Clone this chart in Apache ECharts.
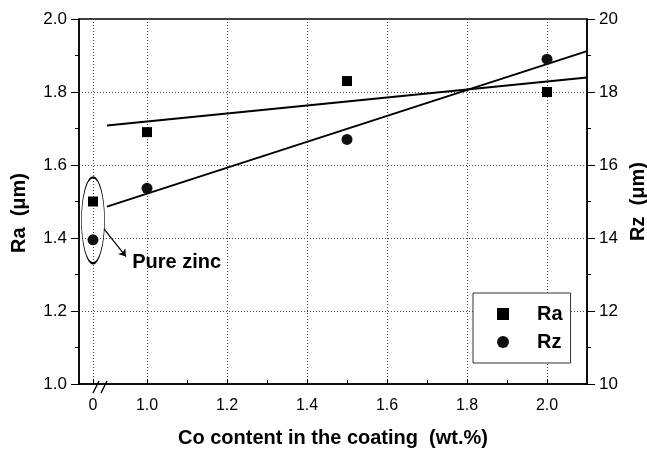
<!DOCTYPE html>
<html>
<head>
<meta charset="utf-8">
<script src="https://cdn.jsdelivr.net/npm/echarts@6/dist/echarts.min.js"></script>
<style>html,body{margin:0;padding:0;background:#fff}#c{width:647px;height:450px}</style>
</head>
<body>
<div id="c"></div>
<script>
// ---- data ----
const coContent = [0, 1.0, 1.5, 2.0];            // wt.% Co (0 = pure zinc, shown left of the axis break)
const raValues  = [1.50, 1.69, 1.83, 1.80];      // Ra (µm), left axis
const rzValues  = [13.95, 15.36, 16.70, 18.90];  // Rz (µm), right axis
const raFitX = [0.9, 2.1];
const raFitY = [1.708, 1.840];
const rzFitX = [0.9, 2.1];
const rzFitY = [14.86, 19.12];
const xTickValues = [0, 1.0, 1.2, 1.4, 1.6, 1.8, 2.0];
const xMinorTicks = [1.1, 1.3, 1.5, 1.7, 1.9];
const raTicks = {min: 1.0, max: 2.0, interval: 0.2};
const rzTicks = {min: 10, max: 20, interval: 2};
const ZERO_POS = 0.865;   // axis position where the "0" (pure zinc) value is drawn
const X_MIN = 0.83, X_MAX = 2.1;
// annotation (data coords)
const ellipseCenter = [0, 1.4485];
const arrowFrom = [0.8925, 1.4247];
const arrowTo = [0.9475, 1.349];
const pureZincLabel = [0.963, 1.334];
const breakMark = [0.8825, 1.0];

const pos = v => (v === 0 ? ZERO_POS : v);
const FONT = 'Liberation Sans';

const chart = echarts.init(document.getElementById('c'), null, {renderer: 'canvas'});
const gridLine = {show: true, lineStyle: {color: '#444', type: [1, 2], width: 1}};
const axisLine = {show: true, lineStyle: {color: '#000', width: 1.5}};

chart.setOption({
  backgroundColor: '#fff',
  animation: false,
  grid: {left: 79, right: 60, top: 19, bottom: 66, outerBoundsMode: 'none', containLabel: false,
    show: true, borderColor: '#000', borderWidth: 1.5, backgroundColor: 'transparent'},
  legend: {
    left: 473, top: 293, orient: 'vertical',
    padding: [10, 8, 10, 24], itemGap: 6, itemWidth: 12, itemHeight: 12,
    borderColor: '#333', borderWidth: 1, backgroundColor: '#fff',
    data: ['Ra', 'Rz'],
    textStyle: {fontFamily: FONT, fontWeight: 'bold', fontSize: 20, color: '#000', lineHeight: 22, padding: [0, 0, 0, 23]}
  },
  xAxis: [{
    type: 'value', min: X_MIN, max: X_MAX,
    name: 'Co content in the coating  (wt.%)', nameLocation: 'middle', nameGap: 44,
    nameTextStyle: {fontFamily: FONT, fontWeight: 'bold', fontSize: 20, color: '#000'},
    axisLine: axisLine,
    axisTick: {show: true, inside: true, length: 5, customValues: xTickValues.map(pos), lineStyle: {color: '#000', width: 1}},
    axisLabel: {customValues: xTickValues.map(pos), margin: 14, fontFamily: FONT, fontSize: 16, color: '#000',
      formatter: v => (v < 0.95 ? '0' : v.toFixed(1))},
    splitLine: gridLine
  }, {
    type: 'value', min: X_MIN, max: X_MAX, position: 'bottom',
    axisLine: {show: true, lineStyle: {color: 'rgba(0,0,0,0)'}},
    axisTick: {show: true, inside: true, length: 4, customValues: xMinorTicks, lineStyle: {color: '#000', width: 1}},
    axisLabel: {show: false, customValues: xMinorTicks},
    splitLine: {show: false}
  }],
  yAxis: [{
    type: 'value', min: raTicks.min, max: raTicks.max, interval: raTicks.interval, position: 'left',
    name: 'Ra  (μm)', nameLocation: 'middle', nameGap: 50, nameRotate: 90,
    nameTextStyle: {fontFamily: FONT, fontWeight: 'bold', fontSize: 20, color: '#000', padding: [0, 23, 0, 0]},
    axisLine: axisLine,
    axisTick: {show: true, inside: false, length: 8, lineStyle: {color: '#000', width: 1}},
    minorTick: {show: true, splitNumber: 2, length: 4, lineStyle: {color: '#000', width: 1}},
    axisLabel: {margin: 12, fontFamily: FONT, fontSize: 17, color: '#000', formatter: v => v.toFixed(1)},
    splitLine: gridLine
  }, {
    type: 'value', min: rzTicks.min, max: rzTicks.max, interval: rzTicks.interval, position: 'right',
    name: 'Rz  (μm)', nameLocation: 'middle', nameGap: 40, nameRotate: 90,
    nameTextStyle: {fontFamily: FONT, fontWeight: 'bold', fontSize: 20, color: '#000'},
    axisLine: axisLine,
    axisTick: {show: true, inside: false, length: 8, lineStyle: {color: '#000', width: 1}},
    minorTick: {show: true, splitNumber: 2, length: 4, lineStyle: {color: '#000', width: 1}},
    axisLabel: {margin: 12, fontFamily: FONT, fontSize: 17, color: '#000'},
    splitLine: {show: false}
  }],
  series: [
    {name: 'Ra fit', type: 'line', xAxisIndex: 0, yAxisIndex: 0, symbol: 'none', silent: true,
      lineStyle: {color: '#000', width: 2}, data: raFitX.map((x, i) => [x, raFitY[i]]), z: 3},
    {name: 'Rz fit', type: 'line', xAxisIndex: 0, yAxisIndex: 1, symbol: 'none', silent: true,
      lineStyle: {color: '#000', width: 2}, data: rzFitX.map((x, i) => [x, rzFitY[i]]), z: 3},
    {name: 'Ra', type: 'scatter', xAxisIndex: 0, yAxisIndex: 0, symbol: 'rect', symbolSize: 10,
      itemStyle: {color: '#000', opacity: 1}, data: coContent.map((c, i) => [pos(c), raValues[i]]), z: 5},
    {name: 'Rz', type: 'scatter', xAxisIndex: 0, yAxisIndex: 1, symbol: 'circle', symbolSize: 11,
      itemStyle: {color: '#111', opacity: 1}, data: coContent.map((c, i) => [pos(c), rzValues[i]]), z: 5},
    {name: 'ellipse', type: 'scatter', xAxisIndex: 0, yAxisIndex: 0, symbol: 'circle', symbolSize: [23, 86], silent: true,
      itemStyle: {color: 'transparent', borderColor: '#000', borderWidth: 1.2, opacity: 1},
      data: [[pos(ellipseCenter[0]), ellipseCenter[1]]], z: 4},
    {name: 'arrow', type: 'lines', coordinateSystem: 'cartesian2d', xAxisIndex: 0, yAxisIndex: 0, silent: true,
      symbol: ['none', 'arrow'], symbolSize: 7,
      lineStyle: {color: '#000', width: 1.2, opacity: 1},
      data: [{coords: [arrowFrom, arrowTo]}], z: 4},
    {name: 'label', type: 'scatter', xAxisIndex: 0, yAxisIndex: 0, symbolSize: 0, silent: true,
      itemStyle: {opacity: 1},
      label: {show: true, position: 'right', distance: 0, formatter: 'Pure zinc', fontFamily: FONT, fontWeight: 'bold', fontSize: 20, color: '#000'},
      data: [pureZincLabel], z: 6},
    {name: 'break', type: 'scatter', xAxisIndex: 0, yAxisIndex: 0, silent: true,
      symbol: 'path://M0,12 L6,0 M8,12 L14,0', symbolSize: [14, 12], symbolOffset: [0, 3],
      itemStyle: {color: 'transparent', borderColor: '#000', borderWidth: 1.3, opacity: 1},
      data: [breakMark], z: 6}
  ]
});
</script>
</body>
</html>
